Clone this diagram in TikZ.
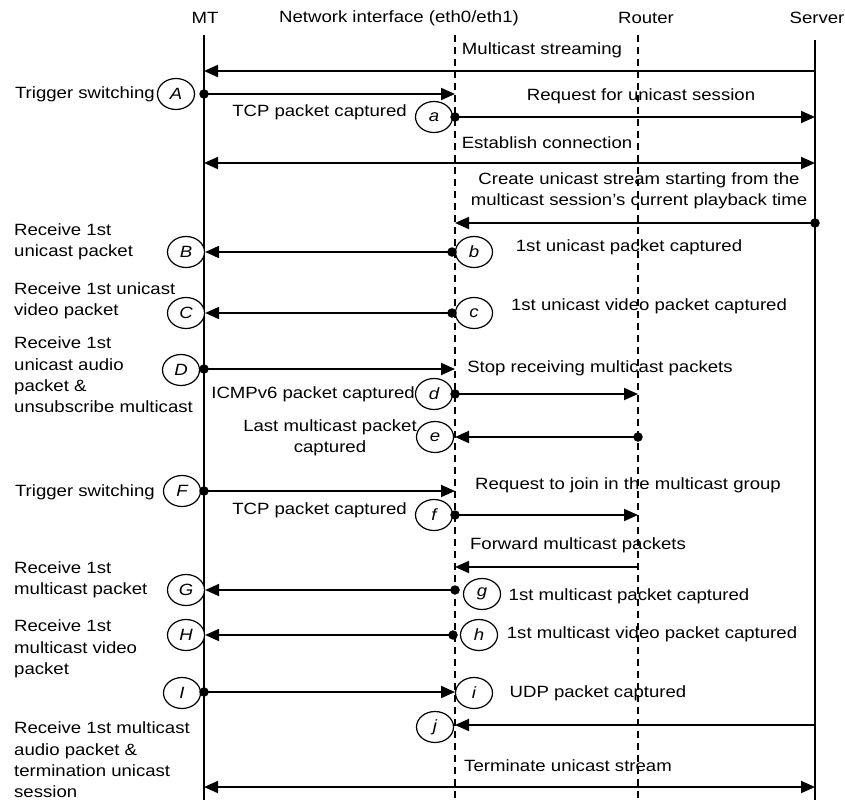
\documentclass[tikz,border=0pt]{standalone}
\usepackage{fontspec}
\setmainfont{Liberation Sans}[FakeStretch=1.14]
\usetikzlibrary{arrows.meta,shapes.geometric}
\begin{document}
\begin{tikzpicture}[x=1pt,y=-1pt,
  font=\fontsize{16.3}{21.3}\selectfont,
  life/.style={line width=1.4pt},
  lifedash/.style={line width=1.4pt,dash pattern=on 7pt off 5pt},
  msg/.style={line width=1.9pt,-{Triangle[length=14pt,width=12pt]}},
  msgboth/.style={line width=1.9pt,{Triangle[length=14pt,width=12pt]}-{Triangle[length=14pt,width=12pt]}},
  ev/.style={ellipse,draw,fill=white,line width=1.2pt,minimum width=37pt,minimum height=31pt,
    inner sep=0pt,font=\fontsize{16.3}{20}\selectfont\itshape},
  lbl/.style={inner sep=0pt},
  side/.style={inner sep=0pt,anchor=west,align=left},
  dot/.style={circle,fill,inner sep=0pt,minimum size=9.5pt}
]
\useasboundingbox (0,0) rectangle (845,800);

% ---- participants and lifelines ----
\node[lbl] (hMT) at (205,18) {MT};
\node[lbl] (hNI) at (399,18) {Network interface (eth0/eth1)};
\node[lbl] (hRT) at (646,18) {Router};
\node[lbl] (hSV) at (817,18) {Server};

\coordinate (mtT) at (204,35);  \coordinate (mtB) at (204,800);
\coordinate (niT) at (455,35);  \coordinate (niB) at (455,800);
\coordinate (rtT) at (638,35);  \coordinate (rtB) at (638,800);
\coordinate (svT) at (815,40);  \coordinate (svB) at (815,800);
\draw[life] (mtT) -- (mtB);
\draw[lifedash] (niT) -- (niB);
\draw[lifedash] (rtT) -- (rtB);
\draw[life] (svT) -- (svB);

% ---- multicast streaming ----
\node[lbl] (lMS) at (542,50) {Multicast streaming};
\coordinate (svMS) at (815,71); \coordinate (mtMS) at (204,71);
\draw[msg] (svMS) -- (mtMS);

% ---- A / a ----
\node[lbl,anchor=east] (tA) at (155,94) {Trigger switching};
\node[ev] (A) at (176,94) {A};
\node[dot] (dA) at (204,94) {};
\coordinate (niA) at (455,94);
\draw[msg] (dA.center) -- (niA);

\node[lbl,anchor=east] (ta) at (407,112) {TCP packet captured};
\node[ev] (a) at (434,117) {a};
\node[dot] (da) at (455,117) {};
\coordinate (sva) at (815,117);
\draw[msg] (da.center) -- (sva);
\node[lbl] (lReq) at (641,96) {Request for unicast session};

% ---- establish connection ----
\node[lbl] (lEst) at (547,143) {Establish connection};
\coordinate (mtEst) at (204,163); \coordinate (svEst) at (815,163);
\draw[msgboth] (mtEst) -- (svEst);

% ---- create unicast stream ----
\node[lbl,align=center] (lCr) at (639,191) {Create unicast stream starting from the\\multicast session’s current playback time};
\node[dot] (dCr) at (815,223) {};
\coordinate (niCr) at (455,223);
\draw[msg] (dCr.center) -- (niCr);

% ---- B / b ----
\node[side] (tB) at (14,242) {Receive 1st\\unicast packet};
\node[ev] (B) at (186,252) {B};
\node[ev] (b) at (474,252) {b};
\node[dot] (db) at (452,252) {};
\draw[msg] (db.center) -- (B.east);
\node[lbl] (lb) at (629,247) {1st unicast packet captured};

% ---- C / c ----
\node[side] (tC) at (14,301) {Receive 1st unicast\\video packet};
\node[ev] (C) at (186,313) {C};
\node[ev] (c) at (474,313) {c};
\node[dot] (dc) at (452,313) {};
\draw[msg] (dc.center) -- (C.east);
\node[lbl] (lc) at (649,306) {1st unicast video packet captured};

% ---- D / d ----
\node[side] (tD) at (14,375) {Receive 1st\\unicast audio\\packet \&\\unsubscribe multicast};
\node[ev] (D) at (181,370) {D};
\node[dot] (dD) at (204,369) {};
\coordinate (niD) at (455,369);
\draw[msg] (dD.center) -- (niD);
\node[lbl] (lStop) at (600,368) {Stop receiving multicast packets};

\node[lbl,anchor=east] (td) at (415,394) {ICMPv6 packet captured};
\node[ev] (d) at (434,394) {d};
\node[dot] (dd) at (455,394) {};
\coordinate (rtd) at (638,394);
\draw[msg] (dd.center) -- (rtd);

% ---- e ----
\node[lbl,align=center] (te) at (330,438) {Last multicast packet\\captured};
\node[ev] (e) at (435,437) {e};
\node[dot] (de) at (638,437) {};
\coordinate (nie) at (455,437);
\draw[msg] (de.center) -- (nie);

% ---- F / f ----
\node[lbl,anchor=east] (tF) at (155,492) {Trigger switching};
\node[ev] (F) at (182,491) {F};
\node[dot] (dF) at (204,491) {};
\coordinate (niF) at (455,491);
\draw[msg] (dF.center) -- (niF);
\node[lbl] (lJoin) at (628,485) {Request to join in the multicast group};

\node[lbl,anchor=east] (tf) at (407,510) {TCP packet captured};
\node[ev] (f) at (434,515) {f};
\node[dot] (df) at (455,515) {};
\coordinate (rtf) at (638,515);
\draw[msg] (df.center) -- (rtf);

% ---- forward multicast packets ----
\node[lbl] (lFw) at (578,545) {Forward multicast packets};
\coordinate (rtFw) at (638,567); \coordinate (niFw) at (455,567);
\draw[msg] (rtFw) -- (niFw);

% ---- G / g ----
\node[side] (tG) at (14,580) {Receive 1st\\multicast packet};
\node[ev] (G) at (186,590) {G};
\node[ev] (g) at (482,594) {g};
\node[dot] (dg) at (455,590) {};
\draw[msg] (dg.center) -- (G.east);
\node[lbl] (lg) at (629,596) {1st multicast packet captured};

% ---- H / h ----
\node[side] (tH) at (14,649) {Receive 1st\\multicast video\\packet};
\node[ev] (H) at (186,635) {H};
\node[ev] (h) at (479,635) {h};
\node[dot] (dh) at (453,635) {};
\draw[msg] (dh.center) -- (H.east);
\node[lbl] (lh) at (652,634) {1st multicast video packet captured};

% ---- I / i ----
\node[ev] (I) at (182,693) {I};
\node[dot] (dI) at (204,692) {};
\coordinate (niI) at (455,692);
\draw[msg] (dI.center) -- (niI);
\node[ev] (i) at (474,693) {i};
\node[lbl] (li) at (598,693) {UDP packet captured};

% ---- j ----
\node[side] (tJ) at (14,760) {Receive 1st multicast\\audio packet \&\\termination unicast\\session};
\node[ev] (j) at (435,727) {j};
\coordinate (svj) at (815,725); \coordinate (nij) at (455,725);
\draw[msg] (svj) -- (nij);

% ---- terminate unicast stream ----
\node[lbl] (lTerm) at (568,766) {Terminate unicast stream};
\coordinate (mtT2) at (204,787); \coordinate (svT2) at (815,787);
\draw[msgboth] (mtT2) -- (svT2);
\end{tikzpicture}
\end{document}
